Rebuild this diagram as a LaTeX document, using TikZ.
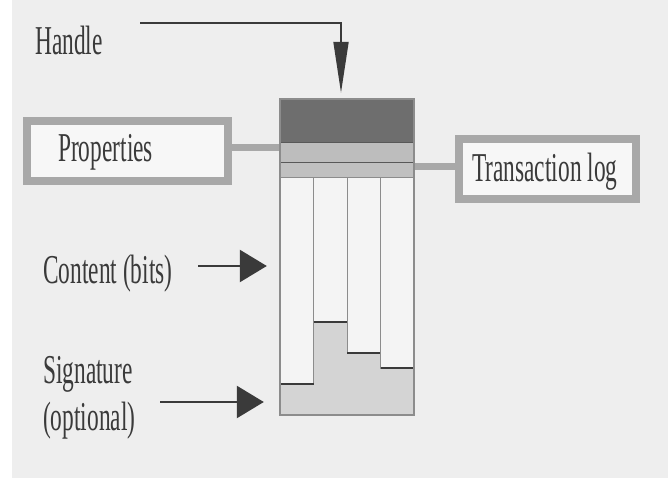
\documentclass[tikz,border=0pt]{standalone}
\usepackage{fontspec}
\setmainfont{Liberation Serif}
\usepackage{graphicx}
\usepackage{xcolor}
\usepackage{tikz}
\usetikzlibrary{positioning,arrows.meta,calc}

\definecolor{paper}{HTML}{EEEEEE}
\definecolor{ink}{HTML}{3A3A3A}
\definecolor{rim}{HTML}{A8A8A8}
\definecolor{hdrgray}{HTML}{6E6E6E}
\definecolor{bandgray}{HTML}{BDBDBD}
\definecolor{siggray}{HTML}{D4D4D4}
\definecolor{colfill}{HTML}{F4F4F4}
\definecolor{colline}{HTML}{8C8C8C}

\newcommand{\lbltext}[1]{\scalebox{0.57}[1]{\fontsize{41}{44}\selectfont #1}}

\begin{document}
\begin{tikzpicture}[
  x=1pt, y=-1pt,
  lbl/.style={inner sep=0pt, anchor=base west, text=ink},
  framebox/.style={draw=rim, line width=8pt, fill=white!55!paper, inner sep=0pt},
  link/.style={draw=rim, line width=7pt},
  part/.style={draw=ink!85, line width=1pt, minimum width=134pt, inner sep=0pt, outer sep=0pt},
  colbox/.style={draw=colline, line width=1pt, fill=colfill},
  colfoot/.style={draw=ink, line width=1.8pt},
  bigarrow/.style={draw=ink, line width=2.5pt, -{Triangle[length=27pt,width=32pt]}},
  handlearrow/.style={draw=ink, line width=1.8pt, -{Triangle[length=51pt,width=15pt]}}
]
\useasboundingbox (0,0) rectangle (668,478);
\fill[white] (0,0) rectangle (668,478);
\fill[paper] (12,0) rectangle (668,478);

\node (obj) [minimum width=134pt, minimum height=316pt, inner sep=0pt] at (347,257) {};

\node (props) [framebox, minimum width=201pt, minimum height=60pt] at (127.5,151) {};
\node (txlog) [framebox, minimum width=177pt, minimum height=60pt] at (547.5,169) {};

\draw [link] ([yshift=3pt]props.east) -- ([yshift=3pt]props.east -| obj.west);
\draw [link] ([yshift=2pt]txlog.west) -- ([yshift=2pt]txlog.west -| obj.east);

\node (hdr) [part, fill=hdrgray, minimum height=44pt, below=0pt of obj.north] {};
\node (banda) [part, fill=bandgray, minimum height=20pt, below=0pt of hdr] {};
\node (bandb) [part, fill=bandgray!95!white, minimum height=15pt, below=0pt of banda] {};

\fill [siggray] (280,384) -- (313.5,384) -- (313.5,322) -- (347,322) -- (347,353)
  -- (380.5,353) -- (380.5,368) -- (414,368) -- (414,415) -- (280,415) -- cycle;
\foreach \xl/\yb in {280/384, 313.5/322, 347/353, 380.5/368} {
  \draw [colbox] (\xl,178) rectangle ++(33.5,\yb-178);
  \draw [colfoot] (\xl,\yb) -- ++(33.5,0);
}
\draw [colline, line width=1.5pt] (obj.north west) rectangle (obj.south east);

\node (handle) [lbl] at (35,55) {\lbltext{Handle}};
\node (propslbl) [lbl] at (58,162) {\lbltext{Properties}};
\node (txloglbl) [lbl] at (472,182) {\lbltext{Transaction log}};
\node (content) [lbl] at (43,283) {\lbltext{Content (bits)}};
\node (sig) [lbl] at (43,383) {\lbltext{Signature}};
\node (optional) [lbl] at (43,430) {\lbltext{(optional)}};

\coordinate (hstart) at (140,23);
\coordinate (cstart) at (198,266);
\coordinate (sstart) at (160,402);

\draw [handlearrow, shorten >=6pt] (hstart) -| ([xshift=-6pt]hdr.north);
\draw [bigarrow, shorten >=13pt] (cstart) -- (cstart -| obj.west);
\draw [bigarrow, shorten >=16pt] (sstart) -- (sstart -| obj.west);

\end{tikzpicture}
\end{document}
